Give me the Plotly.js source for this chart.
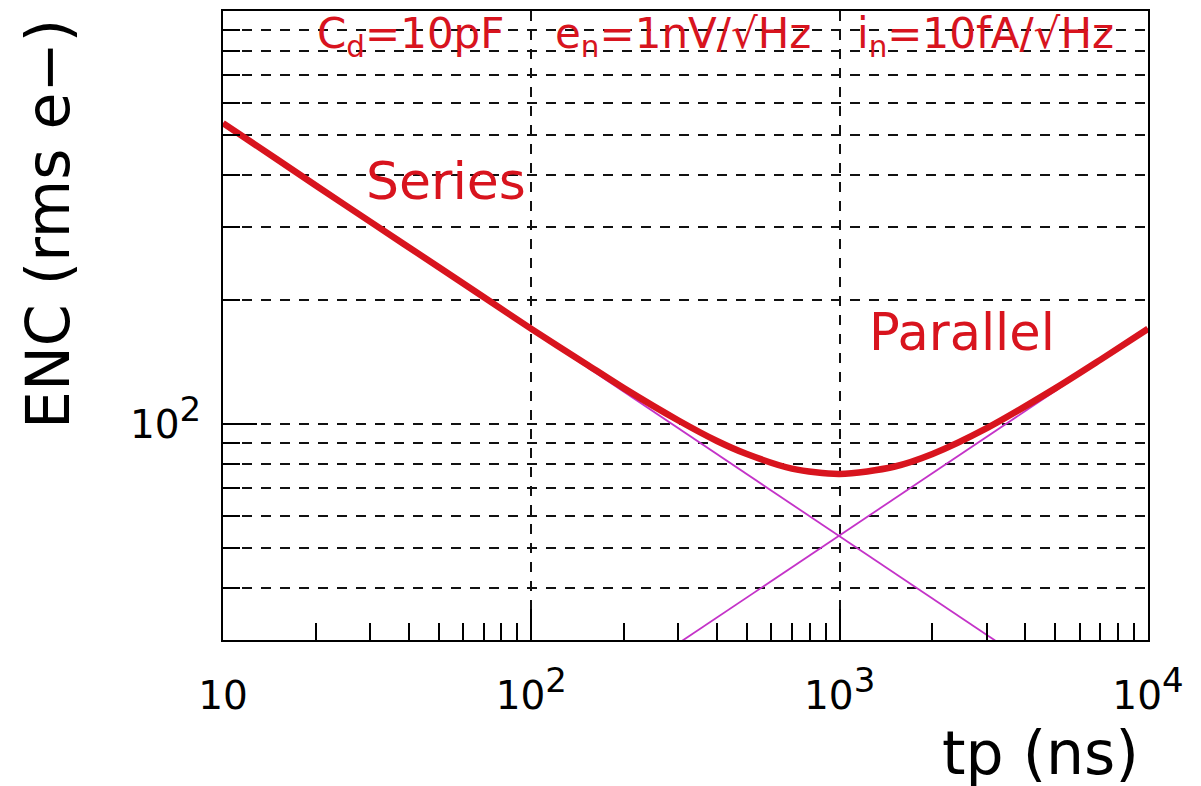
<!DOCTYPE html>
<html>
<head>
<meta charset="utf-8">
<script src="https://cdn.plot.ly/plotly-3.0.1.min.js"></script>
<style>
  html, body { margin: 0; padding: 0; background: #ffffff; }
  #chart { width: 1201px; height: 786px; }
</style>
</head>
<body>
<div id="chart"></div>
<script>
// ---- data ----
const tpTotal = [10, 15, 20, 30, 50, 70, 100, 150, 200, 300, 400, 500, 700, 1000, 1500, 2000, 3000, 5000, 7000, 10000];
const encTotal = [535, 437, 378, 309, 240, 203, 170, 140, 122, 102, 91, 84.6, 78, 75.7, 78.8, 84.6, 97.7, 122, 143, 170];

const tpSeries = [10, 10000];
const encSeries = [535, 16.9];

const tpParallel = [10, 10000];
const encParallel = [5.38, 170];

const xTickVals = [10, 100, 1000, 10000];
const xTickText = ["10", "10<sup><span style='font-size:34px'>2</span></sup>", "10<sup><span style='font-size:34px'>3</span></sup>", "10<sup><span style='font-size:34px'>4</span></sup>"];
const xMinorVals = [20, 30, 40, 50, 60, 70, 80, 90, 200, 300, 400, 500, 600, 700, 800, 900, 2000, 3000, 4000, 5000, 6000, 7000, 8000, 9000];

const yTickVals = [100];
const yTickText = ["10<sup><span style='font-size:34px'>2</span></sup>"];
const yMinorVals = [40, 50, 60, 70, 80, 90, 200, 300, 400, 500, 600, 700, 800, 900];

const headerParts = ["C<sub>d</sub>=10pF", "e<sub>n</sub>=1nV/√Hz", "i<sub>n</sub>=10fA/√Hz"];
const xTitle = "tp (ns)";
const yTitle = "ENC (rms e−)";

// ---- styles ----
const FONT = "DejaVu Sans, Liberation Sans, sans-serif";
const RED = "#d8141e";
const MAGENTA = "#c433c8";
const GRIDDASH = "10px,9px";

// pixel helpers for paper placement (plot area 223..1148 x 11..640)
const px = v => (v - 223) / 925;
const py = v => (640 - v) / 629;

const traces = [
  { x: tpSeries, y: encSeries, type: "scatter", mode: "lines",
    line: { color: MAGENTA, width: 1.8 }, hoverinfo: "skip" },
  { x: tpParallel, y: encParallel, type: "scatter", mode: "lines",
    line: { color: MAGENTA, width: 1.8 }, hoverinfo: "skip" },
  { x: tpTotal, y: encTotal, type: "scatter", mode: "lines",
    line: { color: RED, width: 6.5, shape: "spline", smoothing: 0.8 }, hoverinfo: "skip" }
];

const headerCenters = [410, 683, 985];
const annotations = headerParts.map((t, i) => ({
  text: t, xref: "paper", yref: "paper",
  x: px(headerCenters[i]), y: py(37), xanchor: "center", yanchor: "middle",
  showarrow: false, font: { family: FONT, size: 42, color: RED }
}));
annotations.push(
  { text: "Series", xref: "paper", yref: "paper",
    x: px(446), y: py(181), xanchor: "center", yanchor: "middle",
    showarrow: false, font: { family: FONT, size: 52, color: RED } },
  { text: "Parallel", xref: "paper", yref: "paper",
    x: px(962), y: py(332), xanchor: "center", yanchor: "middle",
    showarrow: false, font: { family: FONT, size: 51, color: RED } },
  { text: xTitle, xref: "paper", yref: "paper",
    x: px(1141), y: py(753), xanchor: "right", yanchor: "middle",
    showarrow: false, font: { family: FONT, size: 60, color: "#000" } },
  { text: yTitle, xref: "paper", yref: "paper", textangle: -90,
    x: px(48), y: py(224), xanchor: "center", yanchor: "middle",
    showarrow: false, font: { family: FONT, size: 60, color: "#000" } }
);

const layout = {
  width: 1201, height: 786,
  margin: { l: 223, r: 53, t: 11, b: 146 },
  paper_bgcolor: "#ffffff", plot_bgcolor: "#ffffff",
  showlegend: false,
  font: { family: FONT, color: "#000000" },
  xaxis: {
    type: "log", range: [1, 4],
    tickmode: "array", tickvals: xTickVals, ticktext: xTickText,
    ticks: "inside", ticklen: 31, tickwidth: 2, tickcolor: "#000",
    tickfont: { family: FONT, size: 39, color: "#000" },
    ticklabelstandoff: 20,
    showgrid: true, gridcolor: "#111", gridwidth: 2, griddash: GRIDDASH,
    showline: true, mirror: true, linecolor: "#000", linewidth: 2,
    zeroline: false,
    minor: { tickmode: "array", tickvals: xMinorVals, ticks: "inside",
             ticklen: 17, tickwidth: 2, tickcolor: "#000", showgrid: false }
  },
  yaxis: {
    type: "log", range: [Math.log10(30), 3],
    tickmode: "array", tickvals: yTickVals, ticktext: yTickText,
    ticks: "inside", ticklen: 34, tickwidth: 2, tickcolor: "#000",
    tickfont: { family: FONT, size: 39, color: "#000" },
    ticklabelstandoff: 12,
    showgrid: true, gridcolor: "#111", gridwidth: 2, griddash: GRIDDASH,
    showline: true, mirror: true, linecolor: "#000", linewidth: 2,
    zeroline: false,
    minor: { tickmode: "array", tickvals: yMinorVals, ticks: "inside",
             ticklen: 17, tickwidth: 2, tickcolor: "#000",
             showgrid: true, gridcolor: "#111", gridwidth: 2, griddash: GRIDDASH }
  },
  annotations: annotations
};

Plotly.newPlot("chart", traces, layout, { staticPlot: true, displayModeBar: false });
</script>
</body>
</html>
